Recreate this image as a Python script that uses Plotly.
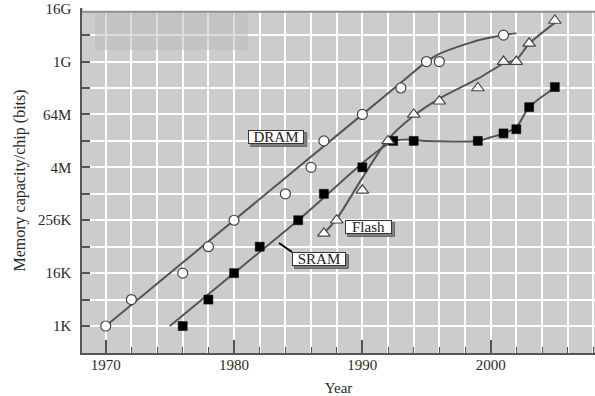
import plotly.graph_objects as go

K = 1024
M = 1024 * K
G = 1024 * M

# ---- data points ----
dram_years = [1970, 1972, 1976, 1978, 1980, 1984, 1986, 1987, 1990, 1993, 1995, 1996, 2001]
dram_bits = [1*K, 4*K, 16*K, 64*K, 256*K, 1*M, 4*M, 16*M, 64*M, 256*M, 1*G, 1*G, 4*G]

sram_years = [1976, 1978, 1980, 1982, 1985, 1987, 1990, 1992.4, 1994, 1999, 2001, 2002, 2003, 2005]
sram_bits = [1*K, 4*K, 16*K, 64*K, 256*K, 1*M, 4*M, 16*M, 16*M, 16*M, 23.7*M, 29.5*M, 94*M, 269*M]

flash_years = [1987, 1988, 1990, 1992, 1994, 1996, 1999, 2001, 2002, 2003, 2005]
flash_bits = [128*K, 256*K, 1.2*M, 16*M, 64*M, 128*M, 256*M, 1*G, 1*G, 2.6*G, 8.6*G]

# ---- trend curves ----
dram_fit_years = [1970, 1985, 1993, 1995, 1996, 1998, 1999.5, 2001, 2002]
dram_fit_bits = [1*K, 4*M, 338*M, 1*G, 1.5*G, 2.46*G, 3.32*G, 4*G, 4.44*G]

sram_fit_years = [1975, 1985, 1992.5, 1995, 1999, 2000, 2001, 2002, 2003, 2005.1]
sram_fit_bits = [1*K, 256*K, 16*M, 16*M, 16*M, 19.3*M, 23.4*M, 32.7*M, 93.7*M, 270*M]

flash_fit_years = [1987, 1988, 1990, 1992, 1994, 1996, 1999, 2001, 2002, 2003, 2005.1]
flash_fit_bits = [128*K, 274*K, 2.3*M, 17.2*M, 59.7*M, 147*M, 416*M, 923*M, 1.11*G, 2.55*G, 8*G]

# ---- axis ticks ----
y_tick_vals = [2**e for e in range(10, 35, 2)]
y_tick_text = ["1K", "", "16K", "", "256K", "", "4M", "", "64M", "", "1G", "", "16G"]

series_labels = ["DRAM", "Flash", "SRAM"]

FONT = "Liberation Serif"
LINE = "#555555"
TXT = "#2a2a2a"

W, H = 595, 396
ML, MR, MT, MB = 82, 0, 8, 43
PW, PH = W - ML - MR, H - MT - MB


def px_to_paper(x, y):
    return (x - ML) / PW, (H - MB - y) / PH


fig = go.Figure()

for xs, ys in [(dram_fit_years, dram_fit_bits), (sram_fit_years, sram_fit_bits),
               (flash_fit_years, flash_fit_bits)]:
    fig.add_trace(go.Scatter(x=xs, y=ys, mode="lines",
                             line=dict(color=LINE, width=2, shape="spline", smoothing=0.8),
                             hoverinfo="skip", showlegend=False))

fig.add_trace(go.Scatter(x=dram_years, y=dram_bits, mode="markers", name="DRAM",
                         marker=dict(symbol="circle", size=10, color="white",
                                     line=dict(color="#444444", width=1.2)),
                         showlegend=False))
fig.add_trace(go.Scatter(x=sram_years, y=sram_bits, mode="markers", name="SRAM",
                         marker=dict(symbol="square", size=9, color="black",
                                     line=dict(color="black", width=0.5)),
                         showlegend=False))
fig.add_trace(go.Scatter(x=flash_years, y=flash_bits, mode="markers", name="Flash",
                         marker=dict(symbol="triangle-up", size=11, color="white",
                                     line=dict(color="#444444", width=1.2)),
                         showlegend=False))

L2 = 0.30102999566
fig.update_layout(
    width=W, height=H, autosize=False,
    margin=dict(l=ML, r=MR, t=MT, b=MB),
    paper_bgcolor="white", plot_bgcolor="#cccccc",
    font=dict(family=FONT, size=15, color=TXT),
    xaxis=dict(
        range=[1968.15, 2008.13], tickmode="linear", tick0=1970, dtick=10,
        ticks="inside", ticklen=13, tickwidth=1.5, tickcolor=LINE,
        showgrid=True, gridcolor="white", gridwidth=1.5,
        showline=True, linecolor=LINE, linewidth=1.5,
        zeroline=False, ticklabelstandoff=-3,
        tickfont=dict(size=15),
        minor=dict(tick0=1970, dtick=2, ticks="inside", ticklen=6, tickwidth=1.2,
                   tickcolor=LINE, showgrid=True, gridcolor="white", gridwidth=1.5),
        title=dict(text="Year", standoff=11, font=dict(size=15)),
    ),
    yaxis=dict(
        type="log", range=[7.96 * L2, 34.05 * L2],
        tickmode="array", tickvals=y_tick_vals, ticktext=y_tick_text,
        ticks="inside", ticklen=8, tickwidth=1.5, tickcolor=LINE,
        showgrid=True, gridcolor="white", gridwidth=1.5,
        showline=True, linecolor=LINE, linewidth=1.5,
        zeroline=False, ticklabelstandoff=6,
        tickfont=dict(size=15),
        title=dict(text="Memory capacity/chip (bits)", standoff=8, font=dict(size=16)),
    ),
)

# faint artefact rectangle top-left
ax0, ay1 = px_to_paper(95, 12.7)
ax1, ay0 = px_to_paper(248, 50)
fig.add_shape(type="rect", xref="paper", yref="paper", x0=ax0, x1=ax1,
              y0=ay0, y1=ay1, fillcolor="rgba(185,185,185,0.5)",
              line=dict(width=0), layer="above")

# white strip above the frame's top edge and the light top border
_, ty = px_to_paper(0, 11.7)
fig.add_shape(type="rect", xref="paper", yref="paper", x0=0.002, x1=1, y0=ty, y1=1.01,
              fillcolor="white", line=dict(width=0), layer="above")
fig.add_shape(type="line", xref="paper", yref="paper", x0=0, x1=1, y0=ty, y1=ty,
              line=dict(color="#8f8f8f", width=2), layer="above")

# label boxes (pixel boxes: left, right, top, bottom) with drop shadows
label_boxes = [(248.3, 304.3, 130, 144), (345, 392, 220, 234), (292, 346, 252, 266)]
for text, (bx0, bx1, by0, by1) in zip(series_labels, label_boxes):
    sx0, sy1 = px_to_paper(bx0 + 2.5, by0 + 2.5)
    sx1, sy0 = px_to_paper(bx1 + 2.5, by1 + 2.5)
    fig.add_shape(type="rect", xref="paper", yref="paper", x0=sx0, x1=sx1, y0=sy0, y1=sy1,
                  fillcolor="#7f7f7f", line=dict(color="#6a6a6a", width=1), layer="above")
    cx, cy = px_to_paper((bx0 + bx1) / 2, (by0 + by1) / 2)
    fig.add_annotation(text=text, xref="paper", yref="paper", x=cx, y=cy,
                       xanchor="center", yanchor="middle",
                       width=bx1 - bx0 - 2, height=by1 - by0 - 2,
                       showarrow=False, font=dict(family=FONT, size=15, color="#1a1a1a"),
                       bgcolor="white", bordercolor="#333333", borderwidth=1, borderpad=0)

# SRAM pointer
px0, py0 = px_to_paper(279, 243)
px1, py1 = px_to_paper(292, 252)
fig.add_shape(type="line", xref="paper", yref="paper", x0=px0, y0=py0,
              x1=px1, y1=py1, line=dict(color="black", width=2))

fig.write_html("out.html")
